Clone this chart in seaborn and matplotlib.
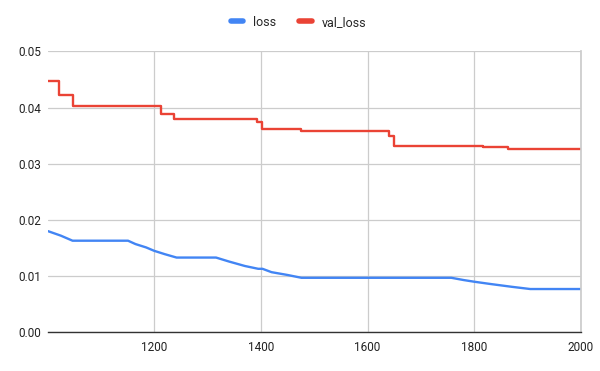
import matplotlib
matplotlib.use('Agg')
import matplotlib.pyplot as plt
import seaborn as sns
import pandas as pd

# training loss
loss_epoch = [1001, 1010, 1025, 1047, 1100, 1151, 1165, 1185, 1200, 1220, 1242,
              1290, 1316, 1340, 1370, 1395, 1403, 1420, 1450, 1476, 1600, 1757,
              1780, 1800, 1830, 1870, 1905, 2000]
loss_vals = [0.0180, 0.0177, 0.0172, 0.0163, 0.0163, 0.0163, 0.0157, 0.0151, 0.0145,
             0.0139, 0.0133, 0.0133, 0.0133, 0.0126, 0.0118, 0.0113, 0.0113, 0.0107,
             0.0102, 0.0097, 0.0097, 0.0097, 0.0093, 0.0090, 0.0086, 0.0081, 0.0077, 0.0077]

# validation loss (step-like)
val_epoch = [1001, 1022, 1047, 1212, 1238, 1392, 1402, 1476, 1641, 1649, 1817, 1864, 2000]
val_vals = [0.0447, 0.0423, 0.0403, 0.0388, 0.0380, 0.0374, 0.0361, 0.0358,
            0.0349, 0.0332, 0.0330, 0.0327, 0.0327]

x_ticks = [1200, 1400, 1600, 1800, 2000]
y_ticks = [0.00, 0.01, 0.02, 0.03, 0.04, 0.05]

BLUE = '#4285F4'
RED = '#EA4335'

sns.set_theme(style='white')
plt.rcParams['font.family'] = ['Roboto', 'DejaVu Sans']

loss_df = pd.DataFrame({'epoch': loss_epoch, 'value': loss_vals})
val_df = pd.DataFrame({'epoch': val_epoch, 'value': val_vals})

fig = plt.figure(figsize=(6, 3.71), dpi=100)
ax = fig.add_axes([0.08, 0.1043, 0.8883, 0.7574])

sns.lineplot(data=loss_df, x='epoch', y='value', ax=ax, color=BLUE,
             linewidth=1.7, label='loss')
sns.lineplot(data=val_df, x='epoch', y='value', ax=ax, color=RED,
             linewidth=1.7, label='val_loss', drawstyle='steps-post')

ax.set_xlim(1001, 2000)
ax.set_ylim(0, 0.05)
ax.set_xticks(x_ticks)
ax.set_yticks(y_ticks)
ax.set_yticklabels([f'{v:.2f}' for v in y_ticks])
ax.set_xlabel('')
ax.set_ylabel('')
ax.tick_params(axis='both', length=0, labelsize=8.5, colors='#222222')
ax.tick_params(axis='x', pad=6)
ax.tick_params(axis='y', pad=5)
ax.grid(True, color='#cccccc', linewidth=0.9)
ax.set_axisbelow(True)
for s in ['left', 'top']:
    ax.spines[s].set_visible(False)
ax.spines['right'].set_color('#cccccc')
ax.spines['bottom'].set_color('#333333')
ax.spines['bottom'].set_linewidth(1)

leg = ax.legend(loc='lower center', bbox_to_anchor=(0.47, 1.04), ncol=2,
                frameon=False, fontsize=9, handlelength=1.0, handletextpad=0.8,
                columnspacing=1.8)
for h in leg.get_lines():
    h.set_linewidth(4)

fig.savefig('out.png', dpi=100)
